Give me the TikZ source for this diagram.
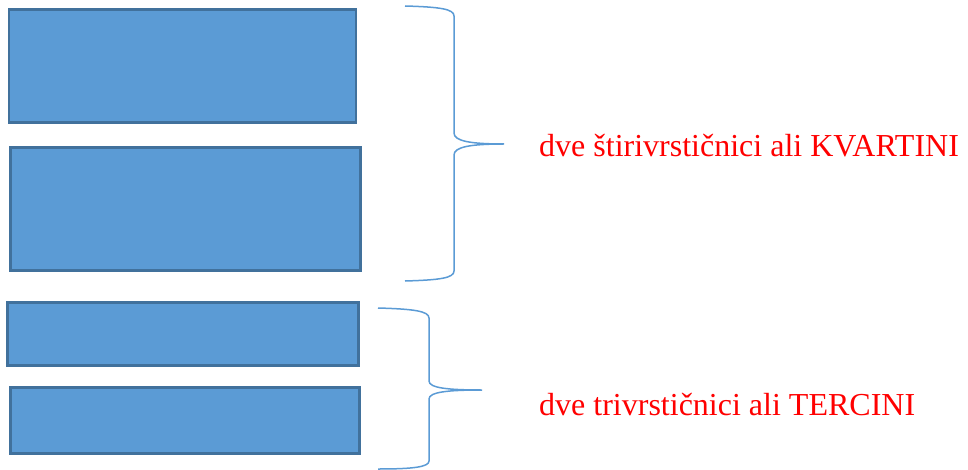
\documentclass[tikz,border=0pt]{standalone}
\usepackage{fontspec}
\setmainfont{Liberation Serif}
\definecolor{boxfill}{HTML}{5B9BD5}
\definecolor{boxline}{HTML}{41719C}
\definecolor{bracecol}{HTML}{5B9BD5}
\begin{document}
\begin{tikzpicture}[x=1pt,y=-1pt,
  blockbox/.style={draw=boxline,fill=boxfill,line width=2.2pt,inner sep=0pt,anchor=center},
  bracepath/.style={draw=bracecol,line width=1.5pt},
  label/.style={text=red,font=\fontsize{32}{38}\selectfont,inner sep=0pt,anchor=base west}]
\useasboundingbox (0,0) rectangle (968,470);
\node[blockbox,minimum width=347pt,minimum height=113pt] (r1) at (182.75,66) {};
\node[blockbox,minimum width=350pt,minimum height=123pt] (r2) at (185.5,209) {};
\node[blockbox,minimum width=351pt,minimum height=63pt] (r3) at (183,334) {};
\node[blockbox,minimum width=349pt,minimum height=66pt] (r4) at (185,420.5) {};
% brace 1
\coordinate (b1top) at (405,6);
\coordinate (b1tip) at (504,144);
\coordinate (b1bot) at (405,281);
\draw[bracepath] (b1top) .. controls (440,7) and (454,9) .. (454,16) -- (454,133)
  .. controls (454,141) and (470,144) .. (b1tip)
  .. controls (470,144) and (454,147) .. (454,155) -- (454,271)
  .. controls (454,278) and (440,280) .. (b1bot);
% brace 2
\coordinate (b2top) at (378,308);
\coordinate (b2tip) at (482,390);
\coordinate (b2bot) at (378,469);
\draw[bracepath] (b2top) .. controls (413,309) and (429,311) .. (429,318) -- (429,381)
  .. controls (429,388) and (448,390) .. (b2tip)
  .. controls (448,390) and (429,392) .. (429,399) -- (429,461)
  .. controls (429,467) and (413,469) .. (b2bot);
\node[label] (t1) at (539,157) {dve štirivrstičnici ali KVARTINI};
\node[label] (t2) at (539,415) {dve trivrstičnici ali TERCINI};
\end{tikzpicture}
\end{document}
